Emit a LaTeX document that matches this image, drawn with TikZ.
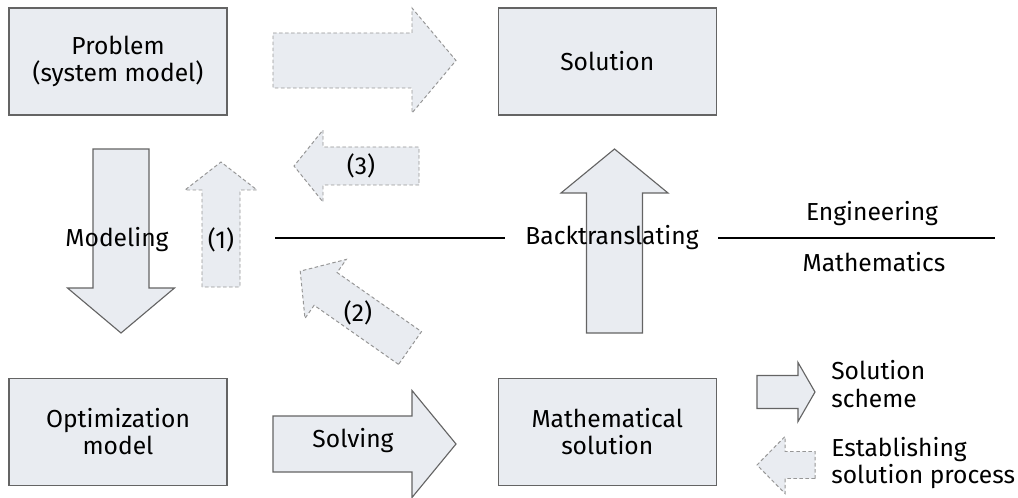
\documentclass[tikz,border=0pt]{standalone}
\usepackage{fontspec}
\setmainfont{Fira Sans}
\usetikzlibrary{positioning}

\definecolor{boxfill}{RGB}{233,236,241}
\definecolor{boxline}{RGB}{100,100,100}
\definecolor{dashline}{RGB}{150,150,150}

% fat arrow: [style] {tail} {angle} {length} {shaft half} {head half} {head length}
\newcommand{\fatarrow}[7][]{%
  \draw[#1, shift={#2}, rotate=#3]
    (0,-#5) -- ({#4-#7},-#5) -- ({#4-#7},-#6) -- (#4,0)
    -- ({#4-#7},#6) -- ({#4-#7},#5) -- (0,#5) -- cycle;}

\tikzset{
  box/.style={draw=boxline, fill=boxfill, line width=0.8pt, minimum width=5.45cm,
    minimum height=2.675cm, align=center},
  solidarrow/.style={draw=boxline, fill=boxfill, line width=0.8pt, line join=miter},
  dasharrow/.style={draw=dashline, fill=boxfill, line width=0.7pt, dash pattern=on 2.5pt off 1.8pt},
  lbl/.style={inner sep=0pt, align=left}
}

\begin{document}
\begin{tikzpicture}[x=0.025cm, y=-0.025cm, font=\fontsize{17.5}{19.5}\selectfont]
\useasboundingbox (0,0) rectangle (1018,498);

% boxes
\node[box] (prob) at (118,61.5) {Problem\\(system model)};
\node[box, right=6.75cm of prob] (sol) {Solution};
\node[box, below=6.55cm of prob] (optm) {Optimization\\model};
\node[box, below=6.55cm of sol] (mathsol) {Mathematical\\solution};

% arrows
\fatarrow[dasharrow]{(273,60.5)}{0}{183}{27.5}{52.5}{44}
\fatarrow[solidarrow]{(273,444)}{0}{183}{28}{53.5}{44}
\fatarrow[solidarrow]{(121,149)}{-90}{184}{28}{53.5}{45}
\fatarrow[solidarrow]{(614.5,333)}{90}{184}{28}{53.5}{44}
\fatarrow[dasharrow]{(221,287)}{90}{125}{19}{36}{28}
\fatarrow[dasharrow]{(419,166)}{180}{125}{19}{36}{29}
\fatarrow[dasharrow]{(410,348)}{145}{134}{20}{36}{31}

% legend arrows
\fatarrow[solidarrow]{(757,392)}{0}{58}{16.5}{29.5}{17}
\fatarrow[dasharrow]{(815,465)}{180}{58}{13.5}{28.5}{28}

% labels
\node (model) at (117,240) {Modeling};
\node (one) at (221,240) {(1)};
\node (two) at (358,313) {(2)};
\node (three) at (361,166) {(3)};
\node (solve) at (353,441) {Solving};
\node (backtr) at (612,238) {Backtranslating};
\node (eng) at (872,214) {Engineering};
\node (maths) at (874,262) {Mathematics};
\node[lbl, anchor=west] (scheme) at (831,384) {Solution\\scheme};
\node[lbl, anchor=west] (process) at (831,463) {Establishing\\solution process};

% separator
\coordinate (sepL) at (275,238);
\coordinate (sepM) at (505,238);
\coordinate (sepN) at (718,238);
\coordinate (sepR) at (995,238);
\draw[line width=0.8pt] (sepL) -- (sepM);
\draw[line width=0.8pt] (sepN) -- (sepR);
\end{tikzpicture}
\end{document}
